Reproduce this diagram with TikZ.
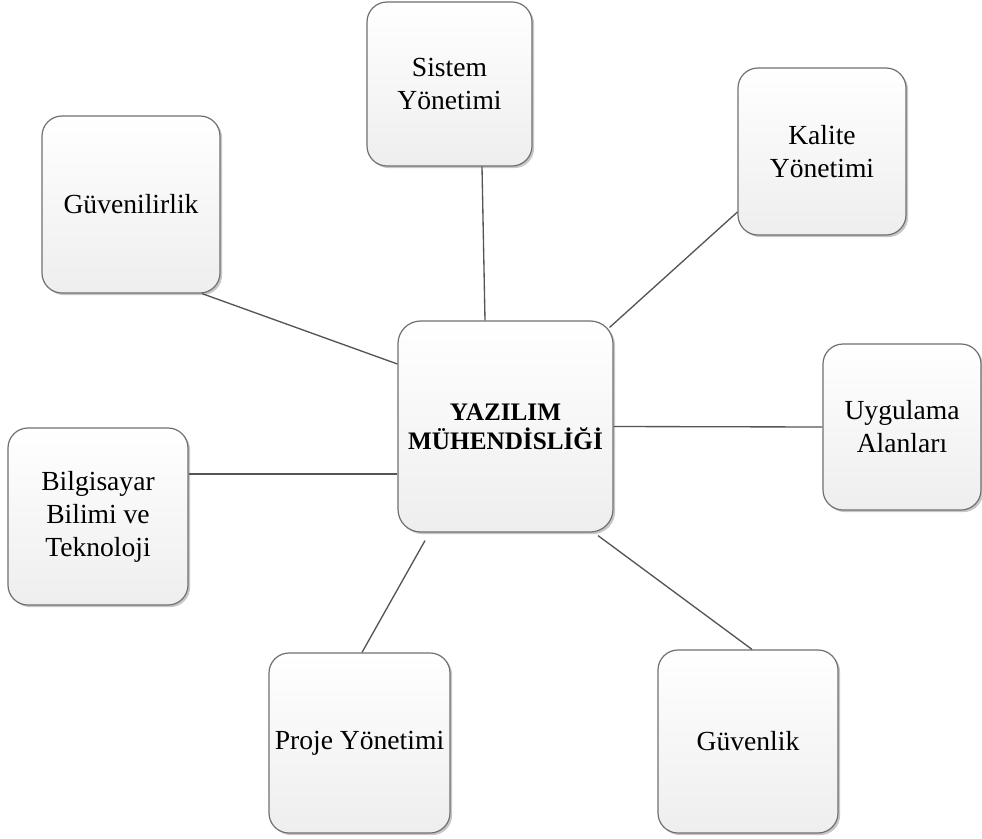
\documentclass[tikz,border=0pt]{standalone}
\usepackage{fontspec}
\setmainfont{Liberation Serif}
\usetikzlibrary{calc,shadows}
\definecolor{boxline}{RGB}{112,112,112}
\definecolor{boxbottom}{RGB}{238,238,238}
\definecolor{linkline}{RGB}{85,85,85}
\tikzset{
  topic/.style={
    rectangle, rounded corners=15pt, draw=boxline, line width=0.9pt,
    top color=white, bottom color=boxbottom, align=center,
    font=\fontsize{20.7}{24.75}\selectfont, text=black,
    inner sep=0pt,
    drop shadow={shadow xshift=1.6pt, shadow yshift=-1.6pt, fill=black, opacity=0.22}
  },
  hub/.style={topic, rounded corners=17pt,
    font=\fontsize{18.9}{21.75}\selectfont\bfseries},
  link/.style={draw=linkline, line width=1pt}
}
\begin{document}
\begin{tikzpicture}[x=0.75pt, y=-0.75pt]
  \useasboundingbox (0,0) rectangle (982,839);
  \fill[white] (0,0) rectangle (982,839);

  % central topic
  \node[hub, minimum width=161.25pt, minimum height=158.25pt] (c) at (505.5,426.5)
    {YAZILIM\\MÜHENDİSLİĞİ};

  % surrounding topics
  \node[topic, minimum width=123.75pt, minimum height=123pt] (sys) at (449.5,84)
    {Sistem\\Yönetimi};
  \node[topic, minimum width=126pt, minimum height=125.25pt] (kal) at (822,151.5)
    {Kalite\\Yönetimi};
  \node[topic, minimum width=133.5pt, minimum height=132.75pt] (guv) at (131,204.5)
    {Güvenilirlik};
  \node[topic, minimum width=118.5pt, minimum height=124.5pt] (uyg) at (902,427)
    {Uygulama\\Alanları};
  \node[topic, minimum width=135pt, minimum height=132.75pt] (bil) at (98,516.5)
    {Bilgisayar\\Bilimi ve\\Teknoloji};
  \node[topic, minimum width=135.75pt, minimum height=135pt] (pro) at (359.5,743)
    {Proje Yönetimi};
  \node[topic, minimum width=135pt, minimum height=137.25pt] (gvn) at (748,741.5)
    {Güvenlik};

  % connectors from the outer topics to the centre
  \draw[link] ($(sys.south)+(32.5,0)$) -- ($(c.north)+(-20.5,0)$);
  \draw[link] ($(kal.west)+(0,60.5)$) -- ($(c.north east)+(-4,7)$);
  \draw[link] ($(guv.south)+(71,0)$) -- ($(c.west)+(0,-62.5)$);
  \draw[link] (c.east) -- (uyg.west);
  \draw[link] ($(bil.east)+(0,-42.5)$) -- ($(c.west)+(0,47.5)$);
  \draw[link] ($(c.south)+(-80.5,8)$) -- ($(pro.north)+(2.5,0)$);
  \draw[link] ($(c.south)+(92.5,3)$) -- ($(gvn.north)+(4,0)$);
\end{tikzpicture}
\end{document}
